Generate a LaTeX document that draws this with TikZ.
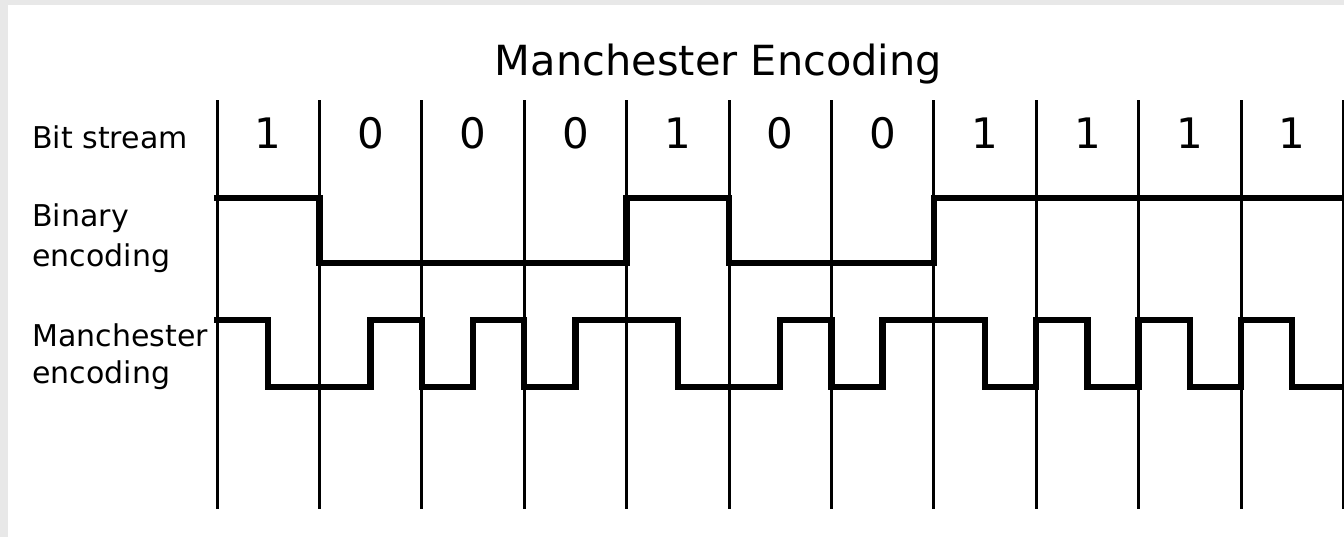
\documentclass[tikz,border=0pt]{standalone}
\usepackage{fontspec}
\setmainfont{DejaVu Sans}
\definecolor{framegray}{RGB}{232,232,232}
\begin{document}
\begin{tikzpicture}[x=0.5pt, y=-0.5pt, line join=miter,
    cellline/.style={line width=1.5pt, line cap=butt},
    signal/.style={line width=3.2pt, line cap=rect},
    bitlabel/.style={anchor=base, inner sep=0pt, font=\fontsize{21}{25}\selectfont},
    rowlabel/.style={anchor=north west, align=left, inner sep=0pt, font=\fontsize{15}{18}\selectfont}]
    \fill[framegray] (0,0) rectangle (1344,537);
    \fill[white] (8,5) rectangle (1344,537);
    \useasboundingbox (0,0) rectangle (1344,537);

    \node[anchor=base, inner sep=0pt, font=\fontsize{20.75}{25}\selectfont] (title) at (718.5,75) {Manchester Encoding};
    \node[rowlabel, anchor=base west] (lbit) at (32,148) {Bit stream};
    \node[rowlabel, font=\fontsize{15}{20}\selectfont] (lbin) at (32,203) {Binary\\encoding};
    \node[rowlabel, font=\fontsize{15}{18.5}\selectfont] (lman) at (32,323) {Manchester\\encoding};

    \foreach \i in {0,...,11}
        \draw[cellline] ({217+102.4*\i},100) -- ({217+102.4*\i},509);

    \foreach \b [count=\i from 0] in {1,0,0,0,1,0,0,1,1,1,1}
        \node[bitlabel] (bit\i) at ({268.2+102.4*\i},148) {\b};

    \draw[signal] (217,198) \foreach \b [count=\i from 0] in {1,0,0,0,1,0,0,1,1,1,1} {
        -- ({217+102.4*\i},{263-65*\b}) -- ({319.4+102.4*\i},{263-65*\b})
    };
    \draw[signal] (217,320) \foreach \b [count=\i from 0] in {1,0,0,0,1,0,0,1,1,1,1} {
        -- ({217+102.4*\i},{387-67*\b}) -- ({268.2+102.4*\i},{387-67*\b})
        -- ({268.2+102.4*\i},{320+67*\b}) -- ({319.4+102.4*\i},{320+67*\b})
    };
\end{tikzpicture}
\end{document}
